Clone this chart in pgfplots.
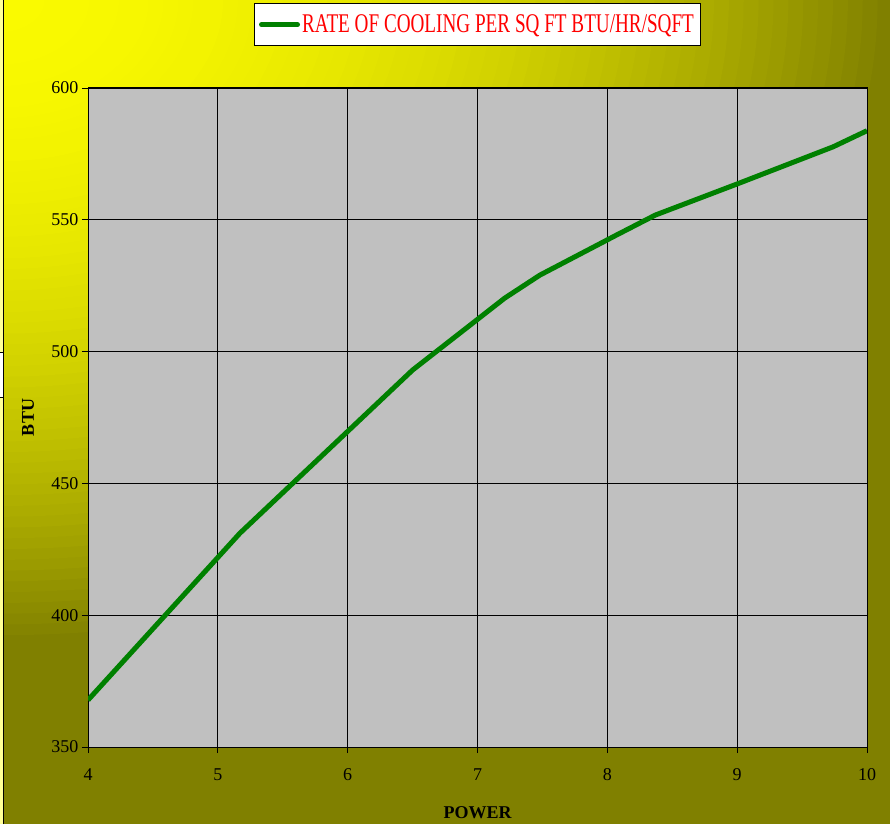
\documentclass[border=0pt]{standalone}
\usepackage{fontspec}
\setmainfont{Liberation Serif}
\usepackage{graphicx}
\usepackage{pgfplots}
\pgfplotsset{compat=1.18}

\definecolor{plotgray}{HTML}{C0C0C0}
\definecolor{linegreen}{HTML}{008000}
\definecolor{bgolive}{HTML}{808000}
\definecolor{bgyellow}{HTML}{FAFA00}
\definecolor{paleyellow}{HTML}{FFFF99}

\begin{document}
\begin{tikzpicture}
\path[use as bounding box] (0pt,0pt) rectangle (890pt,824pt);
% background: yellow in the top left corner, olive towards the other edges
\begin{scope}
\clip (0pt,0pt) rectangle (890pt,824pt);
\fill[bgolive] (0pt,0pt) rectangle (890pt,824pt);
\foreach \i in {60,59,...,1}{
  \pgfmathsetmacro\r{\i/60*0.85}
  \pgfmathsetmacro\t{100*(1-(\r/0.85)^2)}
  \fill[bgyellow!\t!bgolive] (0pt,824pt) ellipse [x radius=\r*1050pt, y radius=\r*760pt];
}
\end{scope}
% left edge strip
\fill[paleyellow] (0pt,0pt) rectangle (3pt,824pt);
\fill[white] (0pt,427pt) rectangle (3pt,472pt);
\draw[line width=0.8pt] (0pt,427pt) -- (3pt,427pt) (0pt,472pt) -- (3pt,472pt);
\draw[line width=1.3pt] (3.7pt,0pt) -- (3.7pt,824pt);

\begin{axis}[
at={(88pt,77pt)}, anchor=south west,
scale only axis,
width=779pt,
height=659pt,
xmin=4, xmax=10,
ymin=350, ymax=600,
xtick={4,5,6,7,8,9,10},
ytick={350,400,450,500,550,600},
grid=major,
major grid style={black, line width=0.9pt},
axis line style={black, line width=1pt},
axis background/.style={fill=plotgray},
tick align=outside,
xtick pos=bottom,
ytick pos=left,
major tick length=6pt,
tick style={black, line width=0.8pt},
ticklabel style={font=\fontsize{18}{20}\selectfont},
xticklabel style={yshift=-12pt},
/pgf/number format/assume math mode=true,
xlabel={POWER},
ylabel={BTU},
xlabel style={font=\bfseries\fontsize{18}{20}\selectfont, at={(axis description cs:0.5,-0.1)}, anchor=center},
ylabel style={font=\bfseries\fontsize{18}{20}\selectfont, at={(axis description cs:-0.077,0.5)}, anchor=center},
legend style={at={(axis description cs:0.5,1.129)}, anchor=north, draw=black, line width=1pt,
  fill=white, font=\fontsize{27}{29}\selectfont, text=red, inner xsep=5pt, inner ysep=9.5pt},
legend image code/.code={\draw[line width=5pt, line cap=round, linegreen] (-1pt,0pt) -- (35pt,0pt);},
]
\addplot[linegreen, line width=5pt] coordinates {
	(4, 367.8)
	(5.17, 431.1)
	(6.5, 493.0)
	(7.21, 520.3)
	(7.48, 529.0)
	(8.07, 544.2)
	(8.37, 551.8)
	(9.0, 563.6)
	(9.74, 577.7)
	(10, 583.8)
};
\addlegendentry{\scalebox{0.71}[1]{RATE OF COOLING PER SQ FT BTU/HR/SQFT}}
\end{axis}
\end{tikzpicture}
\end{document}
